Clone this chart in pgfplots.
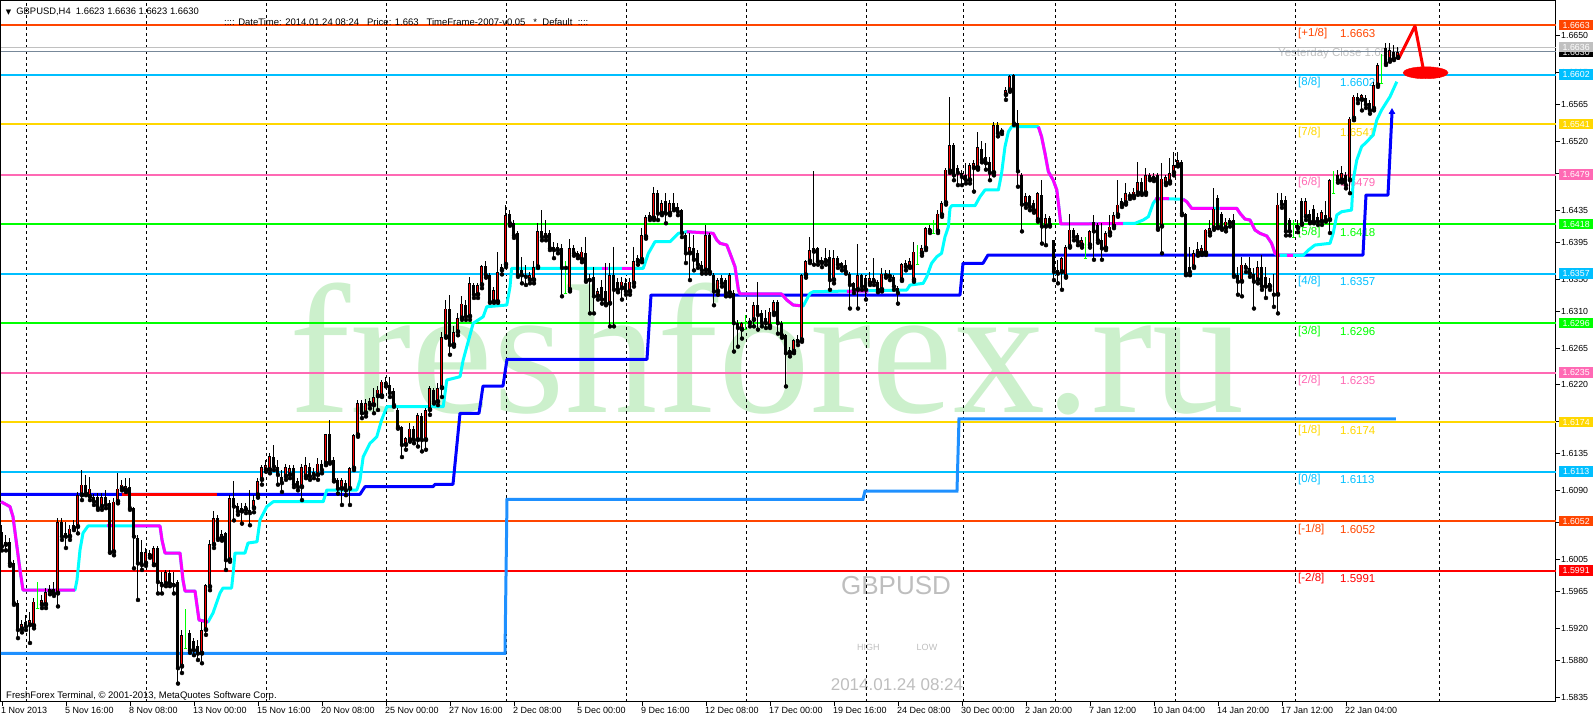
\documentclass[border=0pt]{standalone}
\usepackage{fontspec}
\setmainfont{Liberation Sans}
\newfontfamily\wmfont{Liberation Serif}
\newfontfamily\symfont{DejaVu Sans}
\usepackage{pgfplots}
\usepackage{pgfplotstable}
\pgfplotsset{compat=1.18}

\definecolor{mOrange}{RGB}{255,69,0}
\definecolor{mSky}{RGB}{0,191,255}
\definecolor{mGold}{RGB}{255,215,0}
\definecolor{mPink}{RGB}{255,105,180}
\definecolor{mLime}{RGB}{0,255,0}
\definecolor{mRed}{RGB}{255,0,0}
\definecolor{mSilver}{RGB}{192,192,192}
\definecolor{mSlate}{RGB}{119,136,153}
\definecolor{mBlue}{RGB}{0,0,255}
\definecolor{mDodger}{RGB}{30,144,255}
\definecolor{mCyan}{RGB}{0,255,255}
\definecolor{mMagenta}{RGB}{255,0,255}
\definecolor{mWater}{RGB}{204,240,204}
\definecolor{mGrayTxt}{RGB}{190,190,190}

\newcommand\lvl{\fontsize{11.5}{12}\selectfont}
\newcommand\sml{\fontsize{9}{10}\selectfont}
\newcommand\hdr{\fontsize{9.4}{10}\selectfont}
\tikzset{pbox/.style={anchor=west, xshift=3pt, inner sep=0pt, minimum width=34pt, minimum height=10.5pt, text=white, font=\fontsize{8.8}{10}\selectfont}}

\pgfplotstableread{
i o h l c
0 1.6039 1.6047 1.6016 1.6021
1 1.6023 1.6035 1.6016 1.6027
2 1.6027 1.6031 1.5997 1.6000
3 1.6000 1.6004 1.5949 1.5951
4 1.5951 1.5955 1.5908 1.5918
5 1.5919 1.5930 1.5915 1.5925
6 1.5928 1.5936 1.5918 1.5922
7 1.5924 1.5940 1.5902 1.5930
8 1.5923 1.5957 1.5920 1.5953
9 1.5952 1.5977 1.5945 1.5952
10 1.5949 1.5961 1.5945 1.5955
11 1.5949 1.5970 1.5945 1.5965
12 1.5965 1.5973 1.5962 1.5969
13 1.5969 1.5977 1.5960 1.5963
14 1.5963 1.6056 1.5947 1.6051
15 1.6051 1.6056 1.6029 1.6033
16 1.6037 1.6051 1.6019 1.6033
17 1.6033 1.6047 1.6029 1.6043
18 1.6043 1.6053 1.6041 1.6047
19 1.6045 1.6088 1.6037 1.6084
20 1.6084 1.6115 1.6078 1.6097
21 1.6097 1.6109 1.6084 1.6086
22 1.6082 1.6107 1.6078 1.6092
23 1.6082 1.6085 1.6072 1.6076
24 1.6082 1.6087 1.6066 1.6068
25 1.6070 1.6087 1.6066 1.6082
26 1.6082 1.6090 1.6068 1.6072
27 1.6074 1.6078 1.6013 1.6014
28 1.6014 1.6081 1.6010 1.6076
29 1.6076 1.6111 1.6074 1.6092
30 1.6092 1.6103 1.6090 1.6097
31 1.6090 1.6105 1.6088 1.6095
32 1.6094 1.6105 1.6066 1.6068
33 1.6068 1.6069 1.5994 1.6033
34 1.6031 1.6035 1.5955 1.6000
35 1.6014 1.6029 1.5992 1.5998
36 1.6000 1.6019 1.5997 1.6014
37 1.6013 1.6016 1.6007 1.6010
38 1.5998 1.6021 1.5998 1.6019
39 1.6019 1.6021 1.5963 1.5977
40 1.5977 1.5990 1.5963 1.5973
41 1.5975 1.5992 1.5972 1.5989
42 1.5988 1.5992 1.5972 1.5975
43 1.5976 1.5990 1.5963 1.5973
44 1.5977 1.5980 1.5852 1.5871
45 1.5873 1.5918 1.5865 1.5912
46 1.5911 1.5944 1.5895 1.5911
47 1.5914 1.5918 1.5890 1.5893
48 1.5904 1.5908 1.5887 1.5893
49 1.5898 1.5906 1.5881 1.5889
50 1.5889 1.5928 1.5877 1.5918
51 1.5918 1.5975 1.5912 1.5973
52 1.5971 1.6029 1.5967 1.6024
53 1.6023 1.6064 1.6019 1.6056
54 1.6056 1.6060 1.6029 1.6031
55 1.6031 1.6041 1.6028 1.6036
56 1.6037 1.6039 1.5992 1.6004
57 1.6004 1.6084 1.6002 1.6080
58 1.6080 1.6101 1.6053 1.6070
59 1.6071 1.6074 1.6060 1.6064
60 1.6064 1.6074 1.6049 1.6068
61 1.6066 1.6074 1.6062 1.6071
62 1.6066 1.6090 1.6047 1.6062
63 1.6068 1.6084 1.6063 1.6078
64 1.6084 1.6105 1.6081 1.6101
65 1.6103 1.6121 1.6097 1.6119
66 1.6115 1.6127 1.6113 1.6121
67 1.6115 1.6136 1.6111 1.6132
68 1.6131 1.6146 1.6115 1.6119
69 1.6119 1.6127 1.6097 1.6109
70 1.6107 1.6115 1.6088 1.6099
71 1.6107 1.6123 1.6103 1.6119
72 1.6109 1.6121 1.6105 1.6117
73 1.6117 1.6121 1.6094 1.6097
74 1.6101 1.6105 1.6090 1.6094
75 1.6094 1.6123 1.6078 1.6119
76 1.6107 1.6131 1.6105 1.6121
77 1.6119 1.6124 1.6103 1.6107
78 1.6113 1.6118 1.6105 1.6109
79 1.6109 1.6130 1.6103 1.6123
80 1.6123 1.6127 1.6111 1.6115
81 1.6123 1.6160 1.6121 1.6159
82 1.6160 1.6177 1.6123 1.6125
83 1.6127 1.6131 1.6101 1.6103
84 1.6103 1.6105 1.6086 1.6092
85 1.6092 1.6105 1.6072 1.6103
86 1.6099 1.6103 1.6084 1.6090
87 1.6092 1.6119 1.6072 1.6117
88 1.6117 1.6160 1.6115 1.6158
89 1.6158 1.6201 1.6156 1.6197
90 1.6198 1.6201 1.6179 1.6185
91 1.6185 1.6203 1.6181 1.6197
92 1.6195 1.6204 1.6191 1.6200
93 1.6195 1.6216 1.6185 1.6205
94 1.6206 1.6218 1.6189 1.6214
95 1.6206 1.6226 1.6205 1.6224
96 1.6224 1.6230 1.6218 1.6221
97 1.6220 1.6230 1.6205 1.6210
98 1.6212 1.6216 1.6193 1.6195
99 1.6189 1.6191 1.6166 1.6168
100 1.6168 1.6169 1.6131 1.6146
101 1.6146 1.6156 1.6140 1.6154
102 1.6152 1.6173 1.6150 1.6166
103 1.6166 1.6169 1.6148 1.6152
104 1.6152 1.6185 1.6144 1.6183
105 1.6181 1.6185 1.6138 1.6152
106 1.6152 1.6191 1.6140 1.6189
107 1.6189 1.6218 1.6183 1.6216
108 1.6214 1.6216 1.6197 1.6199
109 1.6199 1.6222 1.6195 1.6216
110 1.6216 1.6285 1.6205 1.6279
111 1.6279 1.6325 1.6278 1.6314
112 1.6314 1.6331 1.6257 1.6269
113 1.6269 1.6292 1.6267 1.6285
114 1.6285 1.6308 1.6281 1.6302
115 1.6302 1.6329 1.6300 1.6320
116 1.6318 1.6325 1.6300 1.6304
117 1.6304 1.6353 1.6300 1.6345
118 1.6343 1.6345 1.6327 1.6331
119 1.6331 1.6345 1.6327 1.6343
120 1.6343 1.6368 1.6339 1.6366
121 1.6366 1.6372 1.6352 1.6355
122 1.6355 1.6358 1.6321 1.6322
123 1.6322 1.6341 1.6321 1.6337
124 1.6322 1.6384 1.6321 1.6359
125 1.6361 1.6369 1.6356 1.6365
126 1.6368 1.6441 1.6365 1.6429
127 1.6431 1.6435 1.6416 1.6419
128 1.6419 1.6423 1.6401 1.6404
129 1.6407 1.6409 1.6353 1.6355
130 1.6361 1.6378 1.6345 1.6355
131 1.6355 1.6368 1.6343 1.6353
132 1.6349 1.6359 1.6345 1.6355
133 1.6349 1.6372 1.6345 1.6365
134 1.6365 1.6419 1.6364 1.6409
135 1.6409 1.6435 1.6398 1.6402
136 1.6402 1.6423 1.6398 1.6407
137 1.6407 1.6411 1.6386 1.6388
138 1.6390 1.6396 1.6376 1.6386
139 1.6390 1.6395 1.6382 1.6386
140 1.6388 1.6394 1.6329 1.6364
141 1.6365 1.6372 1.6333 1.6364
142 1.6337 1.6400 1.6335 1.6388
143 1.6388 1.6392 1.6379 1.6382
144 1.6382 1.6385 1.6376 1.6379
145 1.6374 1.6390 1.6371 1.6384
146 1.6382 1.6402 1.6347 1.6349
147 1.6352 1.6357 1.6308 1.6349
148 1.6353 1.6365 1.6308 1.6329
149 1.6329 1.6339 1.6325 1.6335
150 1.6341 1.6349 1.6320 1.6325
151 1.6335 1.6370 1.6318 1.6320
152 1.6320 1.6370 1.6292 1.6355
153 1.6355 1.6390 1.6292 1.6337
154 1.6347 1.6352 1.6334 1.6337
155 1.6339 1.6353 1.6325 1.6347
156 1.6345 1.6351 1.6331 1.6335
157 1.6335 1.6352 1.6331 1.6347
158 1.6345 1.6390 1.6341 1.6372
159 1.6372 1.6380 1.6368 1.6376
160 1.6374 1.6413 1.6371 1.6404
161 1.6402 1.6429 1.6400 1.6427
162 1.6425 1.6433 1.6423 1.6429
163 1.6425 1.6464 1.6423 1.6456
164 1.6456 1.6460 1.6423 1.6431
165 1.6431 1.6448 1.6429 1.6444
166 1.6446 1.6456 1.6419 1.6431
167 1.6431 1.6448 1.6429 1.6444
168 1.6444 1.6456 1.6435 1.6437
169 1.6439 1.6444 1.6429 1.6433
170 1.6435 1.6437 1.6402 1.6407
171 1.6404 1.6407 1.6370 1.6382
172 1.6382 1.6407 1.6349 1.6390
173 1.6388 1.6404 1.6361 1.6374
174 1.6382 1.6386 1.6364 1.6368
175 1.6368 1.6372 1.6357 1.6361
176 1.6361 1.6417 1.6357 1.6404
177 1.6404 1.6407 1.6357 1.6359
178 1.6355 1.6358 1.6318 1.6335
179 1.6335 1.6352 1.6331 1.6349
180 1.6351 1.6355 1.6341 1.6345
181 1.6349 1.6352 1.6329 1.6333
182 1.6333 1.6358 1.6329 1.6355
183 1.6333 1.6337 1.6261 1.6296
184 1.6296 1.6300 1.6267 1.6290
185 1.6288 1.6298 1.6277 1.6296
186 1.6297 1.6306 1.6288 1.6297
187 1.6296 1.6302 1.6292 1.6299
188 1.6300 1.6322 1.6292 1.6318
189 1.6318 1.6347 1.6288 1.6306
190 1.6308 1.6312 1.6292 1.6296
191 1.6302 1.6312 1.6290 1.6296
192 1.6292 1.6315 1.6290 1.6310
193 1.6308 1.6325 1.6306 1.6322
194 1.6322 1.6325 1.6283 1.6296
195 1.6296 1.6298 1.6278 1.6281
196 1.6281 1.6283 1.6218 1.6259
197 1.6259 1.6267 1.6255 1.6263
198 1.6261 1.6277 1.6259 1.6275
199 1.6277 1.6281 1.6269 1.6273
200 1.6275 1.6357 1.6273 1.6355
201 1.6355 1.6374 1.6352 1.6372
202 1.6372 1.6402 1.6370 1.6386
203 1.6384 1.6483 1.6368 1.6388
204 1.6389 1.6390 1.6368 1.6372
205 1.6370 1.6378 1.6365 1.6374
206 1.6372 1.6388 1.6368 1.6376
207 1.6378 1.6386 1.6337 1.6349
208 1.6349 1.6386 1.6345 1.6376
209 1.6376 1.6379 1.6364 1.6368
210 1.6370 1.6371 1.6361 1.6365
211 1.6368 1.6374 1.6357 1.6359
212 1.6357 1.6359 1.6314 1.6343
213 1.6345 1.6347 1.6333 1.6337
214 1.6337 1.6394 1.6314 1.6355
215 1.6355 1.6357 1.6337 1.6341
216 1.6351 1.6355 1.6325 1.6337
217 1.6345 1.6359 1.6343 1.6351
218 1.6347 1.6376 1.6343 1.6351
219 1.6347 1.6349 1.6334 1.6337
220 1.6337 1.6364 1.6335 1.6357
221 1.6357 1.6361 1.6352 1.6355
222 1.6353 1.6361 1.6349 1.6357
223 1.6353 1.6355 1.6337 1.6341
224 1.6339 1.6342 1.6320 1.6333
225 1.6349 1.6370 1.6348 1.6369
226 1.6365 1.6374 1.6361 1.6370
227 1.6365 1.6376 1.6364 1.6372
228 1.6349 1.6396 1.6347 1.6384
229 1.6380 1.6392 1.6368 1.6380
230 1.6382 1.6392 1.6379 1.6388
231 1.6388 1.6415 1.6386 1.6413
232 1.6409 1.6417 1.6407 1.6413
233 1.6413 1.6423 1.6407 1.6413
234 1.6409 1.6435 1.6407 1.6431
235 1.6429 1.6446 1.6427 1.6444
236 1.6444 1.6487 1.6442 1.6485
237 1.6483 1.6575 1.6481 1.6515
238 1.6515 1.6518 1.6472 1.6478
239 1.6487 1.6491 1.6466 1.6481
240 1.6481 1.6485 1.6466 1.6476
241 1.6478 1.6493 1.6468 1.6472
242 1.6472 1.6493 1.6468 1.6491
243 1.6487 1.6497 1.6458 1.6493
244 1.6487 1.6532 1.6485 1.6513
245 1.6511 1.6520 1.6494 1.6497
246 1.6501 1.6518 1.6485 1.6493
247 1.6495 1.6501 1.6472 1.6481
248 1.6481 1.6544 1.6478 1.6540
249 1.6540 1.6544 1.6526 1.6530
250 1.6534 1.6536 1.6529 1.6532
251 1.6577 1.6587 1.6571 1.6583
252 1.6583 1.6602 1.6581 1.6600
253 1.6602 1.6603 1.6540 1.6542
254 1.6542 1.6559 1.6464 1.6483
255 1.6478 1.6481 1.6409 1.6442
256 1.6442 1.6456 1.6438 1.6452
257 1.6452 1.6454 1.6435 1.6439
258 1.6444 1.6448 1.6432 1.6435
259 1.6423 1.6457 1.6421 1.6456
260 1.6454 1.6472 1.6394 1.6415
261 1.6415 1.6431 1.6392 1.6425
262 1.6425 1.6428 1.6415 1.6417
263 1.6398 1.6399 1.6349 1.6359
264 1.6361 1.6374 1.6345 1.6357
265 1.6359 1.6378 1.6337 1.6376
266 1.6353 1.6392 1.6352 1.6390
267 1.6390 1.6431 1.6389 1.6411
268 1.6411 1.6413 1.6398 1.6402
269 1.6404 1.6407 1.6392 1.6396
270 1.6392 1.6402 1.6389 1.6398
271 1.6395 1.6402 1.6376 1.6395
272 1.6392 1.6411 1.6389 1.6409
273 1.6421 1.6429 1.6374 1.6409
274 1.6417 1.6419 1.6395 1.6398
275 1.6398 1.6419 1.6374 1.6388
276 1.6388 1.6409 1.6386 1.6407
277 1.6407 1.6429 1.6404 1.6415
278 1.6415 1.6433 1.6413 1.6429
279 1.6429 1.6472 1.6427 1.6442
280 1.6442 1.6450 1.6439 1.6446
281 1.6444 1.6468 1.6442 1.6456
282 1.6452 1.6458 1.6449 1.6454
283 1.6452 1.6462 1.6450 1.6458
284 1.6456 1.6495 1.6454 1.6470
285 1.6470 1.6475 1.6454 1.6456
286 1.6456 1.6487 1.6454 1.6478
287 1.6478 1.6481 1.6472 1.6474
288 1.6477 1.6481 1.6471 1.6474
289 1.6478 1.6481 1.6411 1.6413
290 1.6415 1.6493 1.6382 1.6474
291 1.6468 1.6478 1.6466 1.6476
292 1.6470 1.6499 1.6468 1.6481
293 1.6481 1.6507 1.6478 1.6491
294 1.6491 1.6507 1.6489 1.6497
295 1.6495 1.6497 1.6429 1.6431
296 1.6431 1.6432 1.6355 1.6357
297 1.6365 1.6390 1.6355 1.6359
298 1.6365 1.6386 1.6364 1.6382
299 1.6382 1.6396 1.6379 1.6387
300 1.6382 1.6392 1.6380 1.6388
301 1.6382 1.6412 1.6380 1.6411
302 1.6407 1.6423 1.6404 1.6413
303 1.6413 1.6462 1.6411 1.6437
304 1.6450 1.6454 1.6413 1.6415
305 1.6431 1.6433 1.6411 1.6413
306 1.6413 1.6425 1.6409 1.6421
307 1.6419 1.6425 1.6415 1.6423
308 1.6423 1.6431 1.6353 1.6355
309 1.6355 1.6365 1.6331 1.6347
310 1.6347 1.6378 1.6329 1.6368
311 1.6368 1.6370 1.6359 1.6364
312 1.6364 1.6378 1.6353 1.6357
313 1.6357 1.6364 1.6314 1.6347
314 1.6349 1.6372 1.6345 1.6365
315 1.6365 1.6380 1.6337 1.6341
316 1.6353 1.6365 1.6327 1.6341
317 1.6341 1.6352 1.6337 1.6345
318 1.6333 1.6357 1.6316 1.6331
319 1.6331 1.6456 1.6308 1.6442
320 1.6448 1.6456 1.6438 1.6442
321 1.6448 1.6453 1.6404 1.6409
322 1.6423 1.6425 1.6404 1.6409
323 1.6417 1.6423 1.6402 1.6417
324 1.6413 1.6423 1.6408 1.6417
325 1.6446 1.6450 1.6417 1.6419
326 1.6427 1.6450 1.6423 1.6446
327 1.6431 1.6435 1.6419 1.6421
328 1.6437 1.6442 1.6419 1.6421
329 1.6427 1.6432 1.6417 1.6421
330 1.6421 1.6435 1.6417 1.6433
331 1.6429 1.6446 1.6421 1.6423
332 1.6423 1.6474 1.6407 1.6472
333 1.6475 1.6483 1.6456 1.6475
334 1.6478 1.6485 1.6469 1.6472
335 1.6472 1.6489 1.6469 1.6481
336 1.6478 1.6482 1.6462 1.6466
337 1.6472 1.6550 1.6456 1.6548
338 1.6548 1.6577 1.6546 1.6575
339 1.6575 1.6579 1.6567 1.6571
340 1.6571 1.6578 1.6558 1.6577
341 1.6573 1.6577 1.6561 1.6565
342 1.6567 1.6571 1.6554 1.6558
343 1.6560 1.6593 1.6558 1.6589
344 1.6589 1.6616 1.6587 1.6614
345 1.6622 1.6628 1.6591 1.6622
346 1.6635 1.6641 1.6614 1.6616
347 1.6620 1.6641 1.6618 1.6632
348 1.6630 1.6639 1.6620 1.6622
349 1.6623 1.6636 1.6623 1.6630
}\candles

\begin{document}
\begin{tikzpicture}
\begin{axis}[
  set layers,
  scale only axis,
  width=1555pt, height=701pt,
  xmin=-0.25, xmax=388.5,
  ymin=1.58293, ymax=1.66928,
  clip=false,
  axis line style={black, line width=1pt},
  xtick={0,16,...,336},
  xticklabels={1 Nov 2013, 5 Nov 16:00, 8 Nov 08:00, 13 Nov 00:00, 15 Nov 16:00, 20 Nov 08:00, 25 Nov 00:00, 27 Nov 16:00, 2 Dec 08:00, 5 Dec 00:00, 9 Dec 16:00, 12 Dec 08:00, 17 Dec 00:00, 19 Dec 16:00, 24 Dec 08:00, 30 Dec 00:00, 2 Jan 20:00, 7 Jan 12:00, 10 Jan 04:00, 14 Jan 20:00, 17 Jan 12:00, 22 Jan 04:00},
  xtick pos=bottom,
  ytick pos=right,
  yticklabel pos=right,
  tick align=outside,
  major tick length=4pt,
  tick style={black, line width=0.8pt},
  xticklabel style={anchor=north west, font=\sml, inner sep=0pt, xshift=-1pt, yshift=-1pt},
  ytick={1.5835,1.5880,1.5920,1.5965,1.6005,1.6050,1.6090,1.6135,1.6175,1.6220,1.6265,1.6310,1.6350,1.6395,1.6435,1.6480,1.6520,1.6565,1.6605,1.6650},
  scaled y ticks=false,
  yticklabel style={anchor=west, font=\fontsize{8.8}{10}\selectfont, inner sep=1pt,
    /pgf/number format/fixed, /pgf/number format/fixed zerofill,
    /pgf/number format/precision=4, /pgf/number format/assume math mode=true},
  extra x ticks={6.25,36.25,66.25,96.25,126.25,156.25,186.25,216.25,240.3,263.4,293.4,323.4,359.3},
  extra x tick labels={},
  extra x tick style={xmajorgrids=true, major tick length=0pt},
  major grid style={draw=black, line width=1pt, dash pattern=on 3pt off 3pt},
]

% ---------- background texts ----------
\begin{pgfonlayer}{axis background}
\node[anchor=base, inner sep=0pt, text=mWater, font=\wmfont\fontsize{184}{184}\selectfont] at (axis cs:191.25,1.61865) {freshforex.ru};
\node[anchor=base, inner sep=0pt, text=mGrayTxt, font=\fontsize{26}{28}\selectfont] at (axis cs:223.5,1.59619) {GBPUSD};
\node[anchor=base, inner sep=0pt, text=mGrayTxt, font=\fontsize{9}{10}\selectfont] at (axis cs:216.6,1.58933) {HIGH};
\node[anchor=base, inner sep=0pt, text=mGrayTxt, font=\fontsize{9}{10}\selectfont] at (axis cs:231.25,1.58933) {LOW};
\node[anchor=base, inner sep=0pt, text=mGrayTxt, font=\fontsize{17}{18}\selectfont] at (axis cs:223.75,1.58440) {2014.01.24 08:24};
\node[anchor=west, inner sep=0pt, text=mSilver, font=\lvl] at (axis cs:319,1.66287) {Yesterday Close 1.6557};
% level labels
\node[anchor=west, inner sep=0pt, yshift=-8pt, text=mOrange, font=\lvl] at (axis cs:324,1.6663) {[+1/8]};
\node[anchor=west, inner sep=0pt, yshift=-8pt, text=mOrange, font=\lvl] at (axis cs:334.5,1.6663) {1.6663};
\node[anchor=west, inner sep=0pt, yshift=-8pt, text=mSky, font=\lvl] at (axis cs:324,1.6602) {[8/8]};
\node[anchor=west, inner sep=0pt, yshift=-8pt, text=mSky, font=\lvl] at (axis cs:334.5,1.6602) {1.6602};
\node[anchor=west, inner sep=0pt, yshift=-8pt, text=mGold, font=\lvl] at (axis cs:324,1.6541) {[7/8]};
\node[anchor=west, inner sep=0pt, yshift=-8pt, text=mGold, font=\lvl] at (axis cs:334.5,1.6541) {1.6541};
\node[anchor=west, inner sep=0pt, yshift=-8pt, text=mPink, font=\lvl] at (axis cs:324,1.6479) {[6/8]};
\node[anchor=west, inner sep=0pt, yshift=-8pt, text=mPink, font=\lvl] at (axis cs:334.5,1.6479) {1.6479};
\node[anchor=west, inner sep=0pt, yshift=-8pt, text=mLime, font=\lvl] at (axis cs:324,1.6418) {[5/8]};
\node[anchor=west, inner sep=0pt, yshift=-8pt, text=mLime, font=\lvl] at (axis cs:334.5,1.6418) {1.6418};
\node[anchor=west, inner sep=0pt, yshift=-8pt, text=mSky, font=\lvl] at (axis cs:324,1.6357) {[4/8]};
\node[anchor=west, inner sep=0pt, yshift=-8pt, text=mSky, font=\lvl] at (axis cs:334.5,1.6357) {1.6357};
\node[anchor=west, inner sep=0pt, yshift=-8pt, text=mLime, font=\lvl] at (axis cs:324,1.6296) {[3/8]};
\node[anchor=west, inner sep=0pt, yshift=-8pt, text=mLime, font=\lvl] at (axis cs:334.5,1.6296) {1.6296};
\node[anchor=west, inner sep=0pt, yshift=-8pt, text=mPink, font=\lvl] at (axis cs:324,1.6235) {[2/8]};
\node[anchor=west, inner sep=0pt, yshift=-8pt, text=mPink, font=\lvl] at (axis cs:334.5,1.6235) {1.6235};
\node[anchor=west, inner sep=0pt, yshift=-8pt, text=mGold, font=\lvl] at (axis cs:324,1.6174) {[1/8]};
\node[anchor=west, inner sep=0pt, yshift=-8pt, text=mGold, font=\lvl] at (axis cs:334.5,1.6174) {1.6174};
\node[anchor=west, inner sep=0pt, yshift=-8pt, text=mSky, font=\lvl] at (axis cs:324,1.6113) {[0/8]};
\node[anchor=west, inner sep=0pt, yshift=-8pt, text=mSky, font=\lvl] at (axis cs:334.5,1.6113) {1.6113};
\node[anchor=west, inner sep=0pt, yshift=-8pt, text=mOrange, font=\lvl] at (axis cs:324,1.6052) {[-1/8]};
\node[anchor=west, inner sep=0pt, yshift=-8pt, text=mOrange, font=\lvl] at (axis cs:334.5,1.6052) {1.6052};
\node[anchor=west, inner sep=0pt, yshift=-8pt, text=mRed, font=\lvl] at (axis cs:324,1.5991) {[-2/8]};
\node[anchor=west, inner sep=0pt, yshift=-8pt, text=mRed, font=\lvl] at (axis cs:334.5,1.5991) {1.5991};
\end{pgfonlayer}

% ---------- Murrey levels ----------
\addplot[mSilver, line width=1pt, forget plot] coordinates {(-0.25,1.6636) (388.5,1.6636)};
\addplot[mSlate, line width=1pt, forget plot] coordinates {(-0.25,1.6630) (388.5,1.6630)};
\addplot[mOrange, line width=2pt, forget plot] coordinates {(-0.25,1.6663) (388.5,1.6663)};
\addplot[mSky, line width=2pt, forget plot] coordinates {(-0.25,1.6602) (388.5,1.6602)};
\addplot[mGold, line width=2pt, forget plot] coordinates {(-0.25,1.6541) (388.5,1.6541)};
\addplot[mPink, line width=2pt, forget plot] coordinates {(-0.25,1.6479) (388.5,1.6479)};
\addplot[mLime, line width=2pt, forget plot] coordinates {(-0.25,1.6418) (388.5,1.6418)};
\addplot[mSky, line width=2pt, forget plot] coordinates {(-0.25,1.6357) (388.5,1.6357)};
\addplot[mLime, line width=2pt, forget plot] coordinates {(-0.25,1.6296) (388.5,1.6296)};
\addplot[mPink, line width=2pt, forget plot] coordinates {(-0.25,1.6235) (388.5,1.6235)};
\addplot[mGold, line width=2pt, forget plot] coordinates {(-0.25,1.6174) (388.5,1.6174)};
\addplot[mSky, line width=2pt, forget plot] coordinates {(-0.25,1.6113) (388.5,1.6113)};
\addplot[mOrange, line width=2pt, forget plot] coordinates {(-0.25,1.6052) (388.5,1.6052)};
\addplot[mRed, line width=2pt, forget plot] coordinates {(-0.25,1.5991) (388.5,1.5991)};

% ---------- indicator step lines ----------
\addplot[mDodger, line width=3pt, forget plot] coordinates {
(-0.25,1.58892) (125.75,1.58892) (126.25,1.60790) (215.25,1.60790) (215.75,1.60892) (238.75,1.60892) (239.25,1.61779) (348.5,1.61779)};
\addplot[mBlue, line width=3pt, line join=round, forget plot] coordinates {
(-0.25,1.60851) (89.5,1.60851) (90.75,1.60945) (107.75,1.60945) (108.25,1.60974) (112.75,1.60974) (114.5,1.61849) (119.25,1.61849) (120.25,1.62185) (125.25,1.62185) (126.25,1.62514) (161.25,1.62514) (162.25,1.63306) (239.5,1.63306) (240.25,1.63697) (245.25,1.63697) (246.5,1.63799) (340.25,1.63799) (341,1.64538) (346.5,1.64538) (347.5,1.65548)};
\addplot[only marks, mark=triangle*, mark size=3.5pt, mBlue, forget plot] coordinates {(347.5,1.6556)};
\addplot[mRed, line width=3pt, forget plot] coordinates {(30,1.60851) (53.75,1.60851)};

\addplot[mCyan, line width=3pt, line join=round, forget plot] coordinates {
(-0.25,1.60760) (2,1.60699) (2.75,1.60575) (4.5,1.59919) (5.25,1.59672) (18.25,1.59672) (18.75,1.59796) (19.5,1.60165) (20.25,1.60374) (21.5,1.60461) (39.5,1.60461) (40,1.60288) (40.75,1.60128) (44.5,1.60128) (45.25,1.59796) (45.75,1.59660) (48.25,1.59660) (49.25,1.59303) (51.5,1.59278) (52.75,1.59389) (54.5,1.59635) (55.25,1.59697) (57.4,1.59697) (57.8,1.59882) (58.25,1.60128) (60.75,1.60128) (61.5,1.60251) (63.75,1.60267) (64.5,1.60535) (66.2,1.60699) (67.8,1.60760) (80.3,1.60760) (81.2,1.60904) (88.7,1.60904) (89.5,1.61027) (90.3,1.61314) (92,1.61479) (93.7,1.61561) (94.9,1.61766) (96.2,1.61930) (110.3,1.61930) (111.2,1.62259) (114.5,1.62300) (115.3,1.62506) (117.8,1.62958) (120.3,1.63039) (121.2,1.63162) (126.2,1.63183) (127,1.63408) (127.4,1.63635) (160.3,1.63635) (161.6,1.63820) (163.25,1.63963) (167,1.63963) (169.1,1.64066) (171.2,1.64086) (177.8,1.64066) (178.7,1.63984) (179.5,1.63943) (181.2,1.63922) (182,1.63820) (183.25,1.63655) (184.1,1.63368) (184.5,1.63319) (194.9,1.63319) (196.2,1.63245) (197.8,1.63183) (200.3,1.63171) (202,1.63327) (202.8,1.63347) (226.2,1.63368) (227,1.63429) (230.3,1.63450) (231.2,1.63532) (232.4,1.63697) (233.7,1.63778) (234.9,1.63820) (235.75,1.64024) (236.6,1.64147) (237,1.64374) (237.4,1.64406) (243.25,1.64406) (244.5,1.64517) (245.75,1.64600) (249.1,1.64600) (249.9,1.64805) (250.75,1.65133) (251.6,1.65318) (252.4,1.65379) (259.1,1.65379) (259.9,1.65256) (260.75,1.65052) (261.6,1.64825) (262.8,1.64723) (263.7,1.64600) (264.3,1.64353) (264.7,1.64181) (283.25,1.64189) (285.3,1.64230) (286.6,1.64271) (287.8,1.64436) (288.7,1.64497) (295.3,1.64485) (296.2,1.64455) (297.4,1.64374) (308.7,1.64374) (309.5,1.64313) (310.75,1.64242) (312,1.64230) (313.25,1.64107) (314.5,1.64066) (316.2,1.64033) (317.4,1.63943) (318.25,1.63820) (319.1,1.63795) (325.3,1.63795) (326.6,1.63860) (328.25,1.63922) (332,1.63943) (332.8,1.64066) (333.7,1.64292) (334.9,1.64332) (337.4,1.64353) (337.8,1.64723) (338.7,1.64969) (339.9,1.65133) (341.2,1.65195) (342.8,1.65277) (343.7,1.65462) (344.9,1.65585) (347,1.65749) (348.7,1.65934)};

\addplot[mMagenta, line width=3pt, line join=round, forget plot] coordinates {(-0.25,1.60760) (2,1.60699) (2.75,1.60575) (4.5,1.59919) (5.25,1.59672) (18.25,1.59672)};
\addplot[mMagenta, line width=3pt, forget plot] coordinates {(26.25,1.60461) (28.25,1.60461)};
\addplot[mMagenta, line width=3pt, line join=round, forget plot] coordinates {(33.25,1.60461) (39.5,1.60461) (40,1.60288) (40.75,1.60128) (44.5,1.60128) (45.25,1.59796) (45.75,1.59660) (48.25,1.59660) (49.25,1.59303) (51.5,1.59278)};
\addplot[mMagenta, line width=3pt, forget plot] coordinates {(149.9,1.63635) (151.6,1.63635)};
\addplot[mMagenta, line width=3pt, forget plot] coordinates {(154.9,1.63635) (157.4,1.63635)};
\addplot[mMagenta, line width=3pt, line join=round, forget plot] coordinates {(171.2,1.64086) (177.8,1.64066) (178.7,1.63984) (179.5,1.63943) (181.2,1.63922) (182,1.63820) (183.25,1.63655) (184.1,1.63368) (184.5,1.63319) (194.9,1.63319) (196.2,1.63245) (197.8,1.63183) (200.3,1.63171)};
\addplot[mMagenta, line width=3pt, forget plot] coordinates {(211.2,1.63352) (216.6,1.63355)};
\addplot[mMagenta, line width=3pt, line join=round, forget plot] coordinates {(259.1,1.65379) (259.9,1.65256) (260.75,1.65052) (261.6,1.64825) (262.8,1.64723) (263.7,1.64600) (264.3,1.64353) (264.7,1.64181) (280.25,1.64186)};
\addplot[mMagenta, line width=3pt, forget plot] coordinates {(288.3,1.64490) (291.7,1.64495)};
\addplot[mMagenta, line width=3pt, line join=round, forget plot] coordinates {(295.3,1.64485) (296.2,1.64455) (297.4,1.64374) (302.8,1.64374)};
\addplot[mMagenta, line width=3pt, line join=round, forget plot] coordinates {(304.5,1.64374) (308.7,1.64374) (309.5,1.64313) (310.75,1.64242) (312,1.64230) (313.25,1.64107) (314.5,1.64066) (316.2,1.64033) (317.4,1.63943) (318.25,1.63820) (319.1,1.63795) (319.5,1.63795)};
\addplot[mMagenta, line width=3pt, forget plot] coordinates {(321.25,1.63795) (322.8,1.63795)};

% red zigzag and ellipse
\addplot[mRed, line width=3pt, line join=round, forget plot] coordinates {(349.1,1.66210) (353.25,1.66620) (355.3,1.66099)};
\addplot[only marks, mark=*, mark size=6pt, mark options={xscale=3.75, fill=mRed, draw=mRed}, forget plot] coordinates {(355.9,1.66044)};

% ---------- candles ----------
\addplot[only marks, mark=none, forget plot, unbounded coords=discard,
  error bars/.cd, y dir=plus, y explicit, error mark=none,
  error bar style={black, line width=1pt}]
  table[x=i, y expr={(\thisrow{c}==\thisrow{o}) ? nan : \thisrow{l}}, y error expr={\thisrow{h}-\thisrow{l}}] {\candles};
\addplot[only marks, mark=-, mark size=1.5pt, mLime, forget plot, unbounded coords=discard,
  error bars/.cd, y dir=plus, y explicit, error mark=none,
  error bar style={mLime, line width=1pt}]
  table[x=i, y expr={(\thisrow{c}==\thisrow{o}) ? \thisrow{l} : nan}, y error expr={\thisrow{h}-\thisrow{l}}] {\candles};
\addplot[only marks, mark=none, forget plot, unbounded coords=discard,
  error bars/.cd, y dir=plus, y explicit, error mark=none,
  error bar style={black, line width=3pt}]
  table[x=i, y expr={(\thisrow{c}<\thisrow{o}) ? \thisrow{c} : nan}, y error expr={\thisrow{o}-\thisrow{c}}] {\candles};
\addplot[only marks, mark=none, forget plot, unbounded coords=discard,
  error bars/.cd, y dir=plus, y explicit, error mark=none,
  error bar style={black, line width=3pt}]
  table[x=i, y expr={(\thisrow{c}>\thisrow{o}) ? \thisrow{o} : nan}, y error expr={\thisrow{c}-\thisrow{o}}] {\candles};
\addplot[only marks, mark=none, forget plot, unbounded coords=discard,
  error bars/.cd, y dir=plus, y explicit, error mark=none,
  error bar style={mRed, line width=1pt}]
  table[x=i, y expr={(\thisrow{c}>\thisrow{o}+0.00018) ? \thisrow{o}+0.00009 : nan}, y error expr={\thisrow{c}-\thisrow{o}-0.00018}] {\candles};

% ---------- foreground texts ----------
\begin{pgfonlayer}{axis foreground}
\node[anchor=base west, inner sep=0pt, font=\hdr] at (axis cs:0.9,1.66761) {{\symfont\fontsize{7}{8}\selectfont ▼}\ \ GBPUSD,H4\ \ 1.6623 1.6636 1.6623 1.6630};
\node[anchor=base west, inner sep=0pt, font=\fontsize{9.5}{10}\selectfont] at (axis cs:55.5,1.66620) {:::: DateTime: 2014.01.24 08:24\ \ \ Price: 1.663\ \ \ TimeFrame-2007-v0.05\ \ \ *\ \ Default\ \ ::::};
\node[anchor=base west, inner sep=0pt, font=\fontsize{9.5}{10}\selectfont] at (axis cs:1.0,1.58342) {FreshForex Terminal, © 2001-2013, MetaQuotes Software Corp.};
\node[pbox, fill=black] at (axis cs:388.5,1.6630) {1.6630};
\node[pbox, fill=mSilver] at (axis cs:388.5,1.6636) {1.6636};
\node[pbox, fill=mOrange] at (axis cs:388.5,1.6663) {1.6663};
\node[pbox, fill=mSky] at (axis cs:388.5,1.6602) {1.6602};
\node[pbox, fill=mGold] at (axis cs:388.5,1.6541) {1.6541};
\node[pbox, fill=mPink] at (axis cs:388.5,1.6479) {1.6479};
\node[pbox, fill=mLime] at (axis cs:388.5,1.6418) {1.6418};
\node[pbox, fill=mSky] at (axis cs:388.5,1.6357) {1.6357};
\node[pbox, fill=mLime] at (axis cs:388.5,1.6296) {1.6296};
\node[pbox, fill=mPink] at (axis cs:388.5,1.6235) {1.6235};
\node[pbox, fill=mGold] at (axis cs:388.5,1.6174) {1.6174};
\node[pbox, fill=mSky] at (axis cs:388.5,1.6113) {1.6113};
\node[pbox, fill=mOrange] at (axis cs:388.5,1.6052) {1.6052};
\node[pbox, fill=mRed] at (axis cs:388.5,1.5991) {1.5991};
\end{pgfonlayer}
\end{axis}
\pgfresetboundingbox
\path[use as bounding box] ([xshift=-1pt,yshift=-18pt]current axis.south west) rectangle ++(1596pt,720pt);
\end{tikzpicture}
\end{document}
